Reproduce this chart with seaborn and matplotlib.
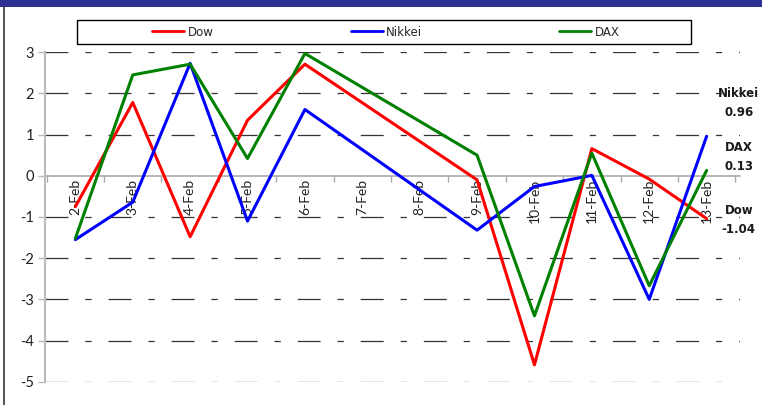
import numpy as np
import pandas as pd
import seaborn as sns
import matplotlib
matplotlib.use("Agg")
import matplotlib.pyplot as plt
from matplotlib.patches import Rectangle
from matplotlib.lines import Line2D

dates = ["2-Feb", "3-Feb", "4-Feb", "5-Feb", "6-Feb", "7-Feb",
         "8-Feb", "9-Feb", "10-Feb", "11-Feb", "12-Feb", "13-Feb"]
dow = [-0.75, 1.78, -1.48, 1.35, 2.71, None, None, -0.10, -4.59, 0.66, -0.08, -1.04]
nikkei = [-1.55, -0.64, 2.73, -1.10, 1.61, None, None, -1.32, -0.26, 0.01, -3.00, 0.96]
dax = [-1.52, 2.45, 2.71, 0.42, 2.97, None, None, 0.50, -3.40, 0.55, -2.67, 0.13]
series_names = ["Dow", "Nikkei", "DAX"]
colors = ["#FF0000", "#0000FF", "#008000"]
yticks = [3, 2, 1, 0, -1, -2, -3, -4, -5]

rows = []
for name, vals in zip(series_names, [dow, nikkei, dax]):
    for i, v in enumerate(vals):
        rows.append({"pos": i, "date": dates[i], "series": name, "value": v})
df = pd.DataFrame(rows).dropna(subset=["value"])

sns.set_theme(style="white")
plt.rcParams["font.family"] = ["DejaVu Sans"]
plt.rcParams["lines.scale_dashes"] = False

fig = plt.figure(figsize=(7.62, 4.05), dpi=100)
ax = fig.add_axes([0.059, 0.0575, 0.912, 0.8135])

sns.lineplot(data=df, x="pos", y="value", hue="series", hue_order=series_names,
             palette=colors, linewidth=2.2, sort=True, ax=ax, legend=False)

ax.set_ylim(-5, 3)
ax.set_xlim(-0.53, 11.58)
ax.set_yticks(yticks)
ax.set_yticklabels([str(t) for t in yticks], fontsize=10.5, color="#222222",
                   family="Lato")
ax.set_xlabel("")
ax.set_ylabel("")

# gridlines
for t in yticks:
    if t == 0:
        continue
    ax.axhline(t, color="#333333", linewidth=0.9,
               linestyle=(0, (16.5, 12.2, 4.5, 12.2)), zorder=0)

for s in ["top", "right"]:
    ax.spines[s].set_visible(False)
ax.spines["left"].set_color("#BBBBBB")
ax.spines["left"].set_linewidth(1.5)
ax.spines["bottom"].set_position(("data", 0))
ax.spines["bottom"].set_color("#AAAAAA")
ax.spines["bottom"].set_linewidth(1.2)
ax.spines["bottom"].set_zorder(0.5)

ax.set_xticks(range(len(dates)))
ax.set_xticklabels(dates, rotation=90, fontsize=10, color="#222222",
                   family="Lato")
ax.set_xticks(np.arange(len(dates) + 1) - 0.5, minor=True)
ax.tick_params(axis="x", which="major", length=0, pad=2)
ax.tick_params(axis="x", which="minor", length=4, width=1, color="#AAAAAA",
               direction="out", bottom=True)
ax.tick_params(axis="y", length=5, width=1, color="#BBBBBB", left=True, pad=3)

# right labels
last_vals = {"Nikkei": nikkei[-1], "DAX": dax[-1], "Dow": dow[-1]}
label_y = {"Nikkei": 1.77, "DAX": 0.45, "Dow": -1.07}
for name in ["Nikkei", "DAX", "Dow"]:
    ax.text(0.9985, (label_y[name] + 5) / 8, f"{name}\n{last_vals[name]:.2f}",
            transform=ax.transAxes, ha="center", va="center",
            fontsize=8.5, fontweight="bold", color="#1a1a1a",
            linespacing=1.6, clip_on=False)

# legend (frame drawn separately)
handles = [Line2D([0], [0], color=c, linewidth=2) for c in colors]
leg = fig.legend(handles, series_names, loc="center",
                 bbox_to_anchor=(386 / 762, 1 - 32 / 405),
                 ncol=3, fontsize=8.5, frameon=False,
                 handlelength=2.7, handletextpad=0.3, columnspacing=11.6,
                 borderpad=0, borderaxespad=0)
fig.patches.append(Rectangle((77 / 762, 1 - 44 / 405), 614 / 762, 24 / 405,
                             transform=fig.transFigure, facecolor="white",
                             edgecolor="black", linewidth=1.0, zorder=-1))

# top band and left border
fig.patches.append(Rectangle((0, 1 - 7 / 405), 1, 7 / 405, transform=fig.transFigure,
                             facecolor="#2E3192", edgecolor="none"))
fig.lines.append(Line2D([3.5 / 762, 3.5 / 762], [0, 1 - 7 / 405],
                        transform=fig.transFigure, color="#333333", linewidth=1.2))

fig.savefig("out.png", dpi=100)
